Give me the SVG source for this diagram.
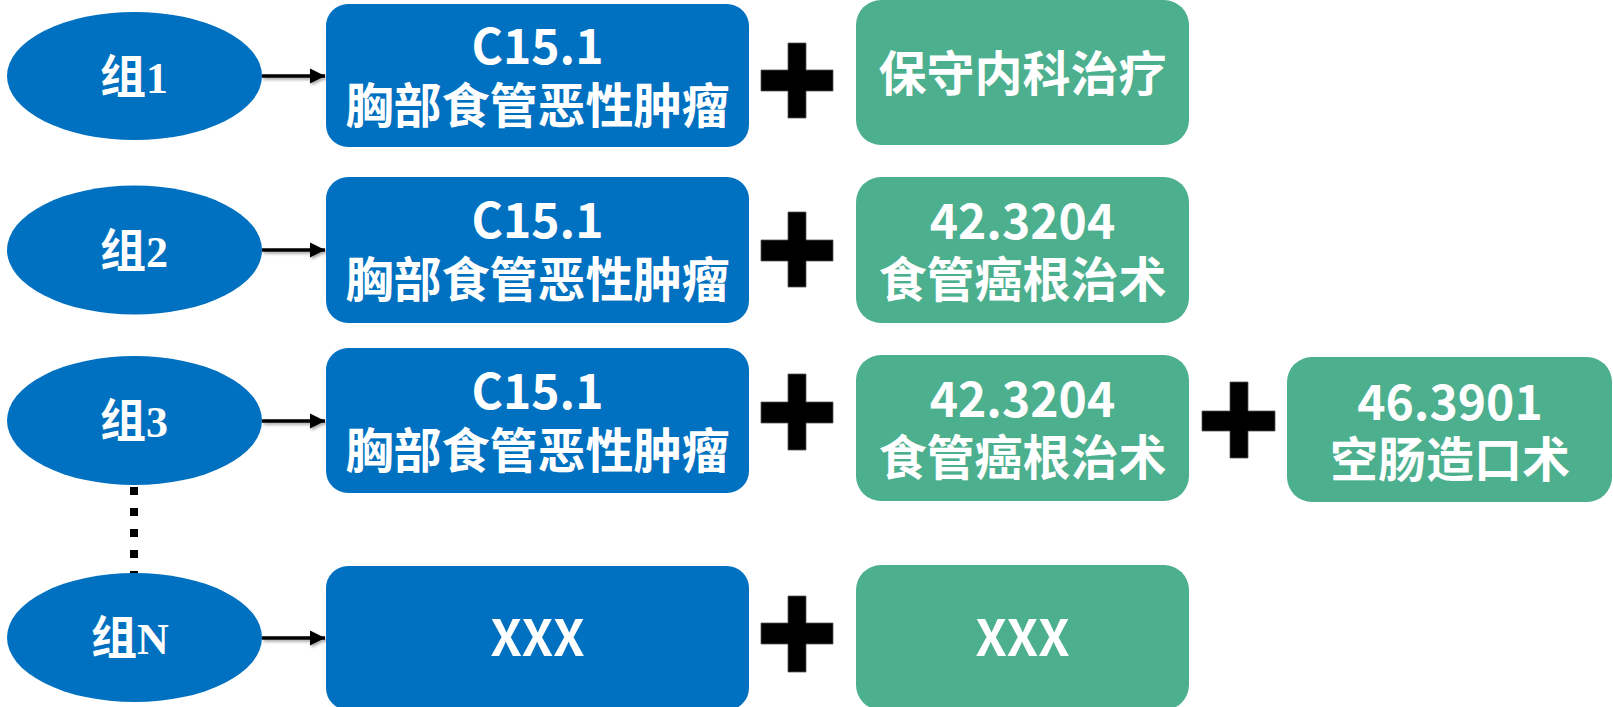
<svg xmlns="http://www.w3.org/2000/svg" width="1613" height="707" viewBox="0 0 1613 707">
<defs>
<marker id="ah" viewBox="0 0 10 10" refX="10" refY="5" markerWidth="4.3" markerHeight="4.3" orient="auto" markerUnits="strokeWidth">
<path d="M0,0 L10,5 L0,10 Z" fill="#000"/>
</marker>
<filter id="sh" filterUnits="userSpaceOnUse" x="0" y="0" width="1613" height="707">
<feDropShadow dx="1.5" dy="2" stdDeviation="1.5" flood-color="#000" flood-opacity="0.35"/>
</filter>
<style>
.ell{fill:#0070C0;}
.blue{fill:#0070C0;}
.green{fill:#4CAF8E;}
.plus{fill:#000;stroke:#555;stroke-width:0.8;}
.t{fill:#fff;font-family:"Noto Sans CJK SC","Noto Sans",sans-serif;font-weight:bold;font-size:48px;text-anchor:middle;}
.g{fill:#fff;font-family:"Noto Sans CJK SC",sans-serif;font-weight:bold;font-size:46px;text-anchor:middle;}
.num{font-family:"Liberation Serif",serif;font-size:44px;}
.arr{stroke:#000;stroke-width:3.5;fill:none;marker-end:url(#ah);}
.dot{stroke:#000;stroke-width:8;stroke-dasharray:8 13;fill:none;}
</style>
</defs>
<rect width="1613" height="707" fill="#fff"/>

<g id="connectors">
<line class="dot" x1="134" y1="487" x2="134" y2="575"/>
<g filter="url(#sh)">
<path class="arr" d="M262,76 H325"/>
<path class="arr" d="M262,250 H325"/>
<path class="arr" d="M262,421 H325"/>
<path class="arr" d="M262,638 H325"/>
</g>
</g>

<g id="group1">
<ellipse class="ell" cx="134.5" cy="76" rx="127.5" ry="64"/>
<text class="g" x="134" y="93">组<tspan class="num">1</tspan></text>
</g>
<g id="group2">
<ellipse class="ell" cx="134.5" cy="250" rx="127.5" ry="64.5"/>
<text class="g" x="134" y="267">组<tspan class="num">2</tspan></text>
</g>
<g id="group3">
<ellipse class="ell" cx="134.5" cy="420.5" rx="127.5" ry="64.5"/>
<text class="g" x="134" y="437">组<tspan class="num">3</tspan></text>
</g>
<g id="groupN">
<ellipse class="ell" cx="134.5" cy="637.5" rx="127.5" ry="64.5"/>
<text class="g" x="130" y="654">组<tspan class="num">N</tspan></text>
</g>

<g id="diag1">
<rect class="blue" x="326" y="4" width="423" height="143" rx="22"/>
<text class="t" x="537.5" y="64">C15.1</text>
<text class="t" x="537.5" y="123">胸部食管恶性肿瘤</text>
</g>
<g id="diag2">
<rect class="blue" x="326" y="177" width="423" height="146" rx="22"/>
<text class="t" x="537.5" y="238">C15.1</text>
<text class="t" x="537.5" y="297">胸部食管恶性肿瘤</text>
</g>
<g id="diag3">
<rect class="blue" x="326" y="348" width="423" height="145" rx="22"/>
<text class="t" x="537.5" y="409">C15.1</text>
<text class="t" x="537.5" y="468">胸部食管恶性肿瘤</text>
</g>
<g id="diagN">
<rect class="blue" x="326" y="566" width="423" height="144" rx="22"/>
<text class="t" x="537.5" y="656" style="font-size:50px">XXX</text>
</g>

<g id="plus1"><path class="plus" d="M788,43 h18 v27 h27 v21 h-27 v27 h-18 v-27 h-27 v-21 h27 Z"/></g>
<g id="plus2"><path class="plus" d="M788,212 h18 v28 h27 v21 h-27 v26 h-18 v-26 h-27 v-21 h27 Z"/></g>
<g id="plus3"><path class="plus" d="M788,374 h18 v28 h27 v21 h-27 v27 h-18 v-27 h-27 v-21 h27 Z"/></g>
<g id="plus4"><path class="plus" d="M1230,382 h18 v29 h27 v20 h-27 v27 h-18 v-27 h-28 v-20 h28 Z"/></g>
<g id="plusN"><path class="plus" d="M788,596 h18 v27 h27 v21 h-27 v28 h-18 v-28 h-27 v-21 h27 Z"/></g>

<g id="proc1">
<rect class="green" x="856" y="0" width="333" height="145" rx="25"/>
<text class="t" x="1022.5" y="91">保守内科治疗</text>
</g>
<g id="proc2">
<rect class="green" x="856" y="177" width="333" height="146" rx="25"/>
<text class="t" x="1022.5" y="239">42.3204</text>
<text class="t" x="1022.5" y="297">食管癌根治术</text>
</g>
<g id="proc3">
<rect class="green" x="856" y="355" width="333" height="146" rx="25"/>
<text class="t" x="1022.5" y="417">42.3204</text>
<text class="t" x="1022.5" y="475">食管癌根治术</text>
</g>
<g id="proc3b">
<rect class="green" x="1287" y="357" width="325" height="145" rx="25"/>
<text class="t" x="1450" y="420">46.3901</text>
<text class="t" x="1450" y="477">空肠造口术</text>
</g>
<g id="procN">
<rect class="green" x="856" y="565" width="333" height="145" rx="25"/>
<text class="t" x="1022.5" y="656" style="font-size:50px">XXX</text>
</g>
</svg>
